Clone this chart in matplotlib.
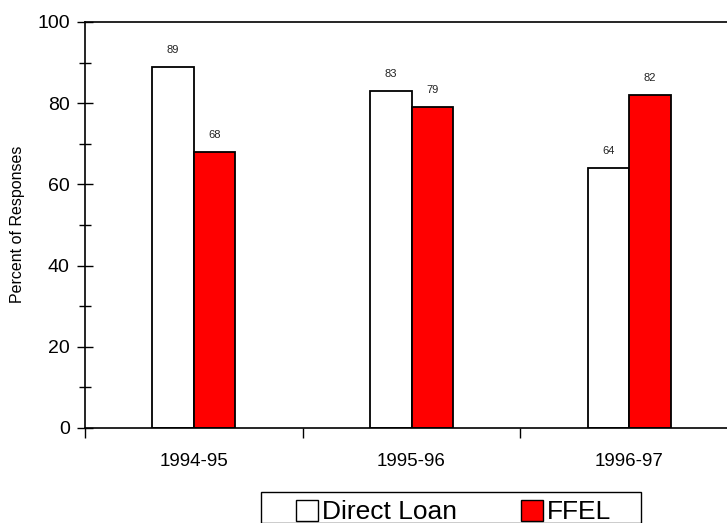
import numpy as np
import matplotlib
matplotlib.use("Agg")
import matplotlib.pyplot as plt
from matplotlib.patches import Rectangle, Patch
from matplotlib.ticker import MultipleLocator, FixedLocator, NullFormatter

plt.rcParams['font.family'] = ['Liberation Sans', 'DejaVu Sans']

# data
years = ['1994-95', '1995-96', '1996-97']
direct_loan = [89, 83, 64]
ffel = [68, 79, 82]

W, H = 727, 523
fig = plt.figure(figsize=(W / 100, H / 100), dpi=100)
ax = fig.add_axes([85 / W, 1 - 428 / H, (738 - 85) / W, (428 - 22) / H])

x = np.arange(len(years))
bw = 0.19
b1 = ax.bar(x - bw / 2, direct_loan, bw, color='white', edgecolor='black', linewidth=1.3)
b2 = ax.bar(x + bw / 2, ffel, bw, color='#ff0000', edgecolor='black', linewidth=1.3)

for bars, vals in ((b1, direct_loan), (b2, ffel)):
    for b, v in zip(bars, vals):
        ax.text(b.get_x() + b.get_width() / 2, v + 4.2, str(v), ha='center', va='center',
                fontsize=8, color='#222222')

ax.set_xlim(-0.5, 2.5)
ax.set_ylim(0, 100)

ax.yaxis.set_major_locator(MultipleLocator(20))
ax.yaxis.set_minor_locator(MultipleLocator(10))
ax.tick_params(axis='y', which='major', direction='inout', length=12, width=1, labelsize=14, pad=5)
ax.tick_params(axis='y', which='minor', direction='inout', length=8, width=1)

ax.set_xticks(x)
ax.set_xticklabels(years)
ax.xaxis.set_minor_locator(FixedLocator([-0.5, 0.5, 1.5]))
ax.xaxis.set_minor_formatter(NullFormatter())
ax.tick_params(axis='x', which='major', length=0, labelsize=13.5, pad=18)
ax.tick_params(axis='x', which='minor', direction='out', length=7, width=1)

for s in ('left', 'bottom', 'top'):
    ax.spines[s].set_linewidth(1.2)
ax.spines['right'].set_visible(False)

fig.text(18 / W, 1 - 224 / H, 'Percent of Responses', rotation=90, ha='center', va='center',
         fontsize=11.5)

# legend box
fig.patches.append(Rectangle((261 / W, 0), (641 - 261) / W, 1 - 492 / H, transform=fig.transFigure,
                             facecolor='white', edgecolor='black', linewidth=1))
handles = [Patch(facecolor='white', edgecolor='black', linewidth=1),
           Patch(facecolor='#ff0000', edgecolor='black', linewidth=1)]
fig.legend(handles, ['Direct Loan', 'FFEL'], loc='center left', ncol=2, frameon=False,
           bbox_to_anchor=(296 / W, 1 - 512 / H), fontsize=19, handlelength=0.85,
           handleheight=0.85, handletextpad=0.15, columnspacing=2.4, borderpad=0, borderaxespad=0)

fig.savefig('out.png', dpi=100)
